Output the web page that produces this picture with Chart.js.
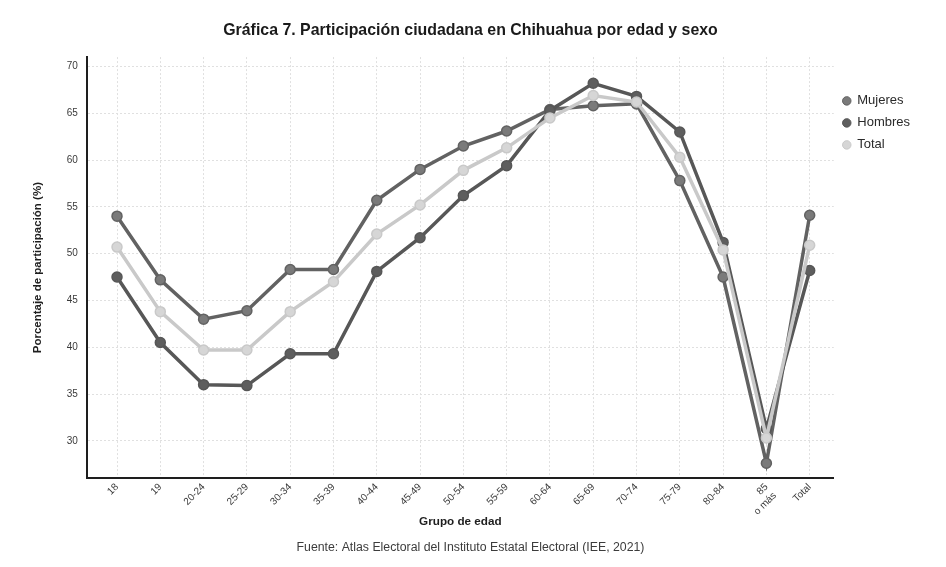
<!DOCTYPE html>
<html>
<head>
<meta charset="utf-8">
<script src="https://cdn.jsdelivr.net/npm/chart.js@4"></script>
<style>
  html, body { margin: 0; padding: 0; background: #fff; }
  #wrap { width: 946px; height: 567px; }
</style>
</head>
<body>
<div id="wrap"><canvas id="chart" width="946" height="567"></canvas></div>
<script>
/*
 * Gráfica 7: participación ciudadana en Chihuahua por edad y sexo
**/
const ageGroups = ['18', '19', '20-24', '25-29', '30-34', '35-39', '40-44', '45-49', '50-54',
  '55-59', '60-64', '65-69', '70-74', '75-79', '80-84', ['85', 'o más'], 'Total']

const mujeres = [54.0, 47.2, 43.0, 43.9, 48.3, 48.3, 55.7, 59.0, 61.5, 63.1, 65.4, 65.8, 66.0, 57.8, 47.5, 27.6, 54.1]
const hombres = [47.5, 40.5, 36.0, 35.9, 39.3, 39.3, 48.1, 51.7, 56.2, 59.4, 65.3, 68.2, 66.8, 63.0, 51.2, 31.3, 48.2]
const total   = [50.7, 43.8, 39.7, 39.7, 43.8, 47.0, 52.1, 55.2, 58.9, 61.3, 64.5, 66.9, 66.2, 60.3, 50.4, 30.3, 50.9]

const yTicks = [30, 35, 40, 45, 50, 55, 60, 65, 70]

const FONT = "'Liberation Sans', Arial, Helvetica, sans-serif"

// points sit on a linear x scale (0..16) so the side gaps can follow the original
const toPoints = values => values.map((v, i) => ({ x: i, y: v }))

const makeSeries = (label, data, line, fill, order) => ({
  label: label,
  data: toPoints(data),
  borderColor: line,
  backgroundColor: fill,
  pointBackgroundColor: fill,
  pointBorderColor: line,
  pointBorderWidth: 1.5,
  pointRadius: 5,
  borderWidth: 3.5,
  tension: 0,
  order: order
})

const datasets = [
  makeSeries('Mujeres', mujeres, '#626262', '#7a7a7a', 2),
  makeSeries('Hombres', hombres, '#575757', '#5e5e5e', 1),
  makeSeries('Total', total, '#c9c9c9', '#d6d6d6', 0)
]

const gridStyle = {
  color: '#e0e0e0',
  lineWidth: 1,
  drawTicks: false
}

// legend dots keep a thin outline instead of the thick line width
const legendLabels = chart =>
  Chart.defaults.plugins.legend.labels.generateLabels(chart)
    .map(item => ({ ...item, lineWidth: 1 }))

const config = {
  type: 'line',
  data: { datasets: datasets },
  options: {
    responsive: false,
    animation: false,
    layout: { padding: { left: 21, right: 26, top: 0, bottom: 0 } },
    scales: {
      x: {
        type: 'linear',
        min: -0.695,
        max: 16.556,
        grid: gridStyle,
        border: { display: true, color: '#1e1e1e', width: 2, dash: [2, 2] },
        afterBuildTicks: axis => {
          axis.ticks = ageGroups.map((g, i) => ({ value: i }))
        },
        afterFit: axis => { axis.height = 51 },
        ticks: {
          color: '#3a3a3a',
          font: { family: FONT, size: 10 },
          minRotation: 45,
          maxRotation: 45,
          padding: 3,
          autoSkip: false,
          callback: value => ageGroups[value]
        },
        title: {
          display: true,
          text: 'Grupo de edad',
          color: '#1e1e1e',
          font: { family: FONT, size: 11.7, weight: 'bold' },
          padding: { top: 0, bottom: 0 }
        }
      },
      y: {
        min: 26,
        max: 71,
        grid: gridStyle,
        border: { display: true, color: '#1e1e1e', width: 2, dash: [2, 2] },
        afterBuildTicks: axis => {
          axis.ticks = yTicks.map(v => ({ value: v }))
        },
        ticks: {
          color: '#3a3a3a',
          font: { family: FONT, size: 10 },
          padding: 9
        },
        title: {
          display: true,
          text: 'Porcentaje de participación (%)',
          color: '#1e1e1e',
          font: { family: FONT, size: 11.5, weight: 'bold' },
          padding: { top: 10, bottom: 13 }
        }
      }
    },
    plugins: {
      title: {
        display: true,
        text: 'Gráfica 7. Participación ciudadana en Chihuahua por edad y sexo',
        color: '#1a1a1a',
        font: { family: FONT, size: 15.9, weight: 'bold' },
        padding: { top: 21, bottom: 17 }
      },
      subtitle: {
        display: true,
        position: 'bottom',
        text: 'Fuente: Atlas Electoral del Instituto Estatal Electoral (IEE, 2021)',
        color: '#3c3c3c',
        font: { family: FONT, size: 12.3 },
        padding: { top: 11, bottom: 12 }
      },
      legend: {
        position: 'right',
        align: 'start',
        title: { display: true, text: ' ', font: { size: 12 }, padding: 35.5 },
        labels: {
          usePointStyle: true,
          pointStyle: 'circle',
          boxWidth: 8,
          boxHeight: 6,
          padding: 9,
          color: '#2a2a2a',
          font: { family: FONT, size: 13 },
          generateLabels: legendLabels,
          sort: (a, b) => a.datasetIndex - b.datasetIndex
        }
      },
      tooltip: { enabled: false }
    }
  }
}

new Chart(document.getElementById('chart'), config)
</script>
</body>
</html>
